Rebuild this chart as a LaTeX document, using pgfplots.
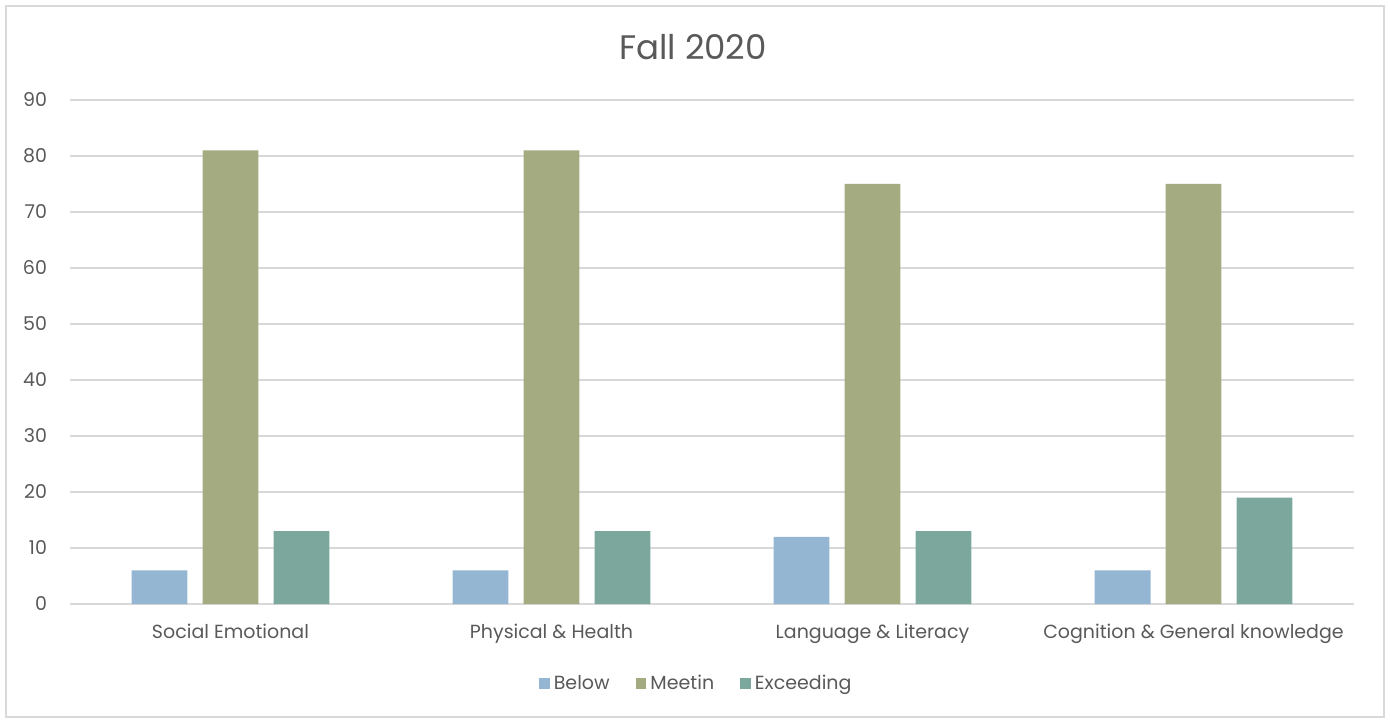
\documentclass[border=0pt]{standalone}
\usepackage{pgfplots}
\pgfplotsset{compat=1.18}
\usepackage{fontspec}
\setmainfont{Poppins}
\definecolor{txt}{HTML}{595959}
\definecolor{gridc}{HTML}{D9D9D9}
\definecolor{cbelow}{HTML}{94B6D2}
\definecolor{cmeet}{HTML}{A5AB81}
\definecolor{cexc}{HTML}{7BA79D}
\begin{document}
\begin{tikzpicture}
\path[use as bounding box] (-35pt,-59.5pt) rectangle (660pt,302pt);
\draw[gridc, line width=0.6pt] (-32pt,-56.5pt) rectangle (657pt,299pt);
\begin{axis}[
  at={(0pt,0pt)}, anchor=south west,
  scale only axis, width=642pt, height=252pt,
  xmin=-0.5, xmax=3.5, ymin=0, ymax=90,
  enlargelimits=false,
  ytick={0,10,...,90},
  xtick={0,1,2,3},
  xticklabels={Social Emotional, Physical \& Health, Language \& Literacy, Cognition \& General knowledge},
  major tick length=0pt,
  axis line style={draw=none},
  ymajorgrids, grid style={gridc, line width=0.8pt},
  ticklabel style={font=\fontsize{9.5}{11}\selectfont, text=txt},
  /pgf/number format/assume math mode=true,
  yticklabel style={xshift=-8pt},
  xticklabel style={yshift=-6.5pt},
  ybar, bar width=0.174,
  legend style={at={(0.4885,-0.158)}, anchor=center, draw=none, legend columns=3,
    font=\fontsize{9.5}{11}\selectfont, text=txt,
    /tikz/every even column/.append style={column sep=11pt}},
  legend image code/.code={\fill[#1] (0cm,-0.09cm) rectangle (0.19cm,0.1cm);},
  title={Fall 2020},
  title style={at={(0.4852,1)}, anchor=center, yshift=20.5pt, font=\fontsize{17}{20}\selectfont, text=txt},
]
\addplot[fill=cbelow, draw=none, bar shift=-0.221] coordinates {(0,6) (1,6) (2,12) (3,6)};
\addplot[fill=cmeet, draw=none, bar shift=0] coordinates {(0,81) (1,81) (2,75) (3,75)};
\addplot[fill=cexc, draw=none, bar shift=0.221] coordinates {(0,13) (1,13) (2,13) (3,19)};
\legend{Below, Meetin, Exceeding}
\end{axis}
\end{tikzpicture}
\end{document}
